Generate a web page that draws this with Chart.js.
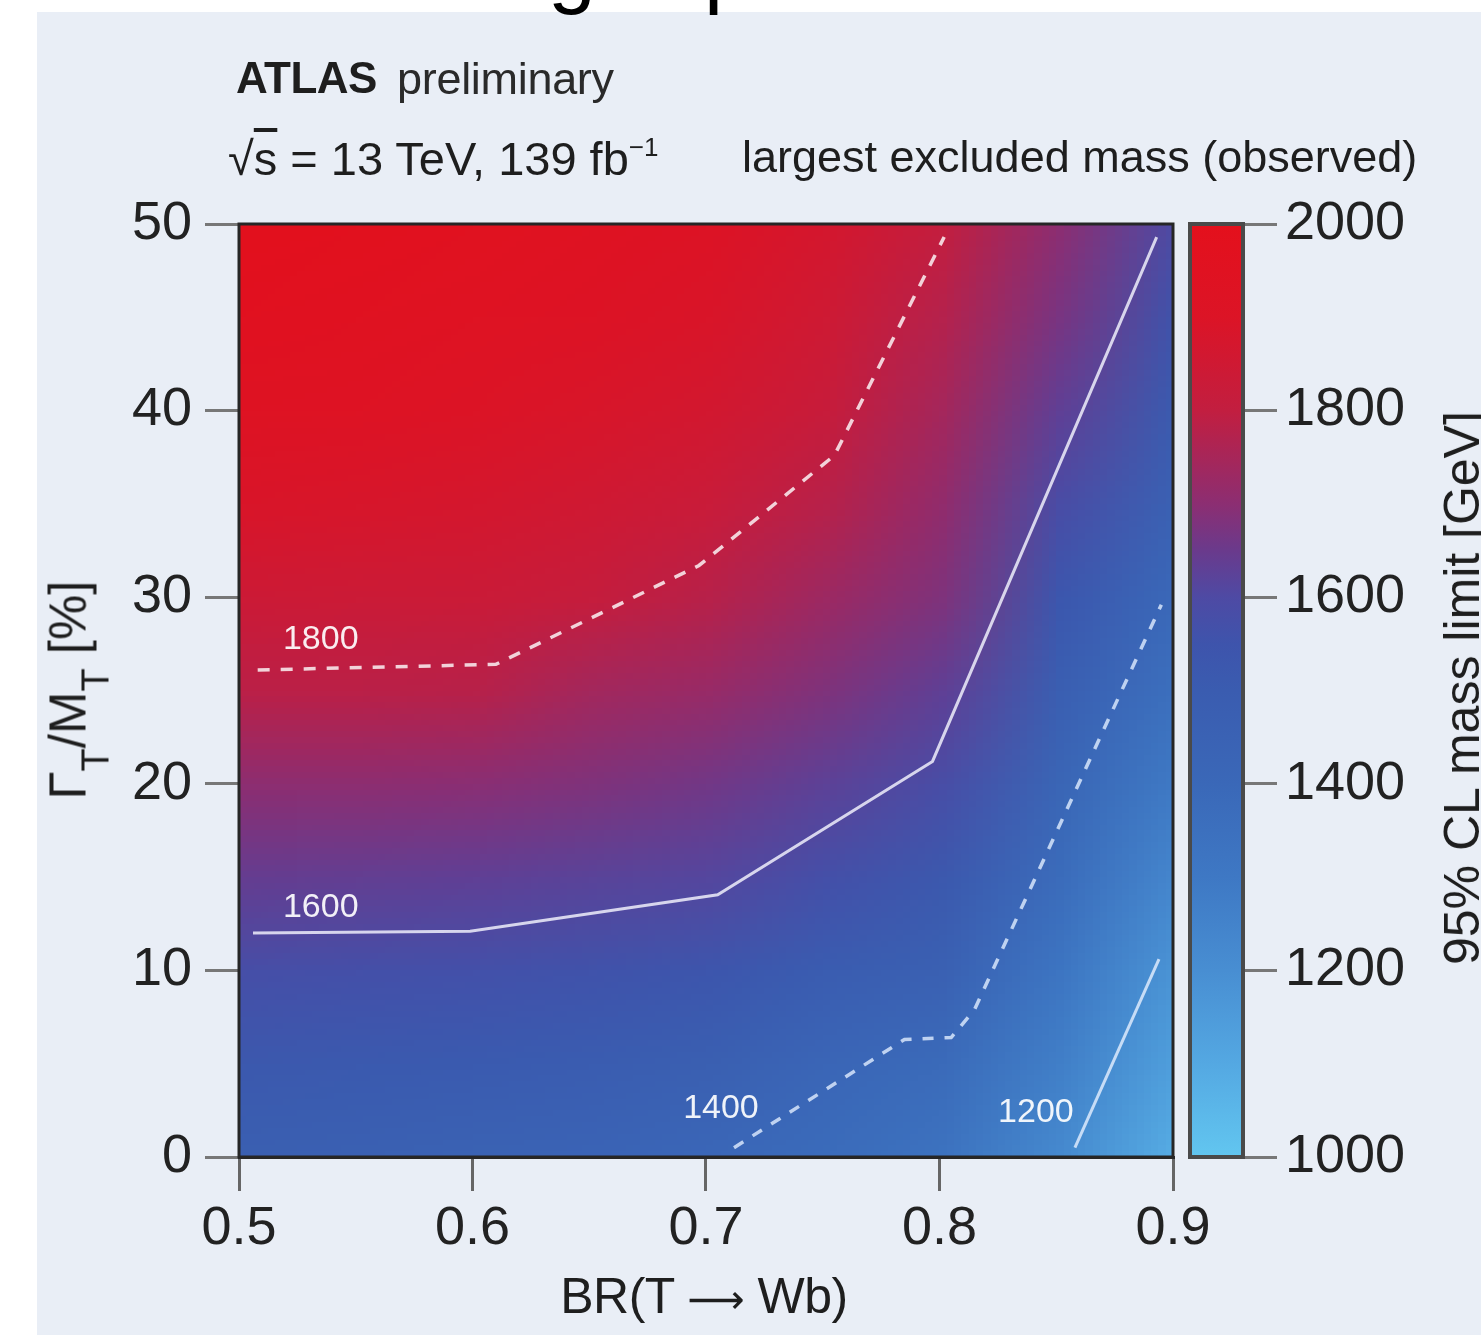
<!DOCTYPE html>
<html><head><meta charset="utf-8">
<script src="https://cdn.jsdelivr.net/npm/chart.js@4.4.1/dist/chart.umd.min.js"></script>
<style>
html,body{margin:0;padding:0;background:#fff;}
body{width:1481px;height:1335px;overflow:hidden;position:relative;font-family:"Liberation Sans",Arial,sans-serif;color:#1e1e1e;}
#bg{position:absolute;left:37px;top:12px;right:0;bottom:0;background:#e9eef6;}
.t{position:absolute;white-space:nowrap;line-height:1;}
canvas{position:absolute;top:0;}
</style></head><body>
<div id="bg"></div>
<div class="t" style="left:548px;top:-76px;font-size:86px;color:#000;">g</div>
<div class="t" style="left:704px;top:-76px;font-size:86px;color:#000;">p</div>
<canvas id="main" width="1481" height="1335" style="left:0"></canvas>
<canvas id="cbar" width="331" height="1335" style="left:1150px"></canvas>
<div class="t" style="left:236px;top:56px;font-size:44px;font-weight:bold;color:#1e1e1e;letter-spacing:-0.5px;">ATLAS</div>
<div class="t" style="left:397px;top:56px;font-size:45px;color:#2a2a2a;letter-spacing:-0.3px;">preliminary</div>
<div class="t" style="left:228px;top:135px;font-size:47px;color:#1e1e1e;">√<span style="text-decoration:overline;">s</span> = 13 TeV, 139 fb<span style="font-size:26px;position:relative;top:-19px;">−1</span></div>
<div class="t" style="left:742px;top:134px;font-size:45px;color:#1e1e1e;">largest excluded mass (observed)</div>
<div class="t" style="left:704px;top:1271px;font-size:50px;color:#1e1e1e;transform:translateX(-50%);letter-spacing:-0.5px;">BR(T <span style="font-family:'DejaVu Sans';font-size:40px;">⟶</span> Wb)</div>
<div class="t" style="left:68px;top:690px;font-size:51px;color:#1e1e1e;transform:translate(-50%,-50%) rotate(-90deg);">Γ<span style="font-size:38px;position:relative;top:23px;">T</span>/M<span style="font-size:38px;position:relative;top:23px;">T</span> [%]</div>
<div class="t" style="left:1462px;top:688px;font-size:50px;color:#1e1e1e;transform:translate(-50%,-50%) rotate(-90deg);">95% CL mass limit [GeV]</div>
<script>
// ---- data ----
const brValues = [0.50, 0.55, 0.60, 0.65, 0.70, 0.75, 0.80, 0.85, 0.90];
const widthValues = [0, 5, 10, 15, 20, 25, 30, 35, 40, 45, 50];
// mass limit [GeV], one row per width value, columns follow brValues
const massLimit = [
  [1470,1460,1445,1430,1405,1375,1330,1220,1080],
  [1520,1515,1505,1490,1470,1415,1380,1270,1130],
  [1575,1570,1565,1555,1540,1490,1460,1320,1175],
  [1640,1635,1630,1620,1610,1570,1520,1375,1230],
  [1700,1700,1695,1680,1660,1625,1580,1420,1290],
  [1785,1785,1780,1740,1720,1680,1630,1475,1350],
  [1840,1835,1830,1810,1780,1730,1680,1530,1395],
  [1890,1880,1870,1850,1825,1780,1710,1585,1450],
  [1930,1920,1905,1885,1860,1820,1745,1630,1500],
  [1965,1955,1935,1915,1890,1845,1775,1670,1550],
  [1990,1980,1960,1940,1915,1870,1805,1700,1590]
];
const contour1800 = [[0.508,26.1],[0.61,26.4],[0.697,31.7],[0.755,37.6],[0.802,49.3]];
const contour1600 = [[0.506,12.0],[0.599,12.1],[0.705,14.05],[0.797,21.2],[0.893,49.3]];
const contour1400 = [[0.712,0.5],[0.785,6.3],[0.805,6.4],[0.815,7.9],[0.895,29.6]];
const contour1200 = [[0.858,0.5],[0.894,10.6]];
const contourLabels = ['1800','1600','1400','1200'];
const contourLabelPos = [[0.535,27.2],[0.535,12.86],[0.7064,2.09],[0.8413,1.88]];
const xTicks = [0.5, 0.6, 0.7, 0.8, 0.9];
const yTicks = [0, 10, 20, 30, 40, 50];
const cbarTicks = [1000, 1200, 1400, 1600, 1800, 2000];
const colorValues = [1000,1100,1200,1300,1400,1500,1550,1600,1650,1700,1800,1900,2000];
const colorRGB = [
  [98,198,240],[84,168,226],[72,142,210],[62,120,196],[58,104,184],
  [58,92,176],[62,84,172],[78,74,164],[106,58,140],[140,46,114],
  [194,30,64],[220,20,38],[228,16,28]
];

function colorFor(v){
  if (v <= colorValues[0]) return colorRGB[0];
  for (let i = 1; i < colorValues.length; i++){
    if (v <= colorValues[i]){
      const f = (v - colorValues[i-1]) / (colorValues[i] - colorValues[i-1]);
      const a = colorRGB[i-1], b = colorRGB[i];
      return [0,1,2].map(k => Math.round(a[k] + (b[k]-a[k])*f));
    }
  }
  return colorRGB[colorRGB.length-1];
}
const toXY = arr => arr.map(p => ({x:p[0], y:p[1]}));
const FONT = 'Liberation Sans';

const heatmapPlugin = {
  id:'heatmap',
  beforeDatasetsDraw(chart){
    const {ctx, chartArea:ca, scales:{x, y}} = chart;
    const nx = brValues.length, ny = widthValues.length;
    const off = document.createElement('canvas');
    off.width = nx; off.height = ny;
    const octx = off.getContext('2d');
    const img = octx.createImageData(nx, ny);
    for (let r = 0; r < ny; r++){
      const row = massLimit[ny-1-r];
      for (let c = 0; c < nx; c++){
        const col = colorFor(row[c]);
        const i = (r*nx + c)*4;
        img.data[i]=col[0]; img.data[i+1]=col[1]; img.data[i+2]=col[2]; img.data[i+3]=255;
      }
    }
    octx.putImageData(img,0,0);
    const dx = brValues[1]-brValues[0], dy = widthValues[1]-widthValues[0];
    const l = x.getPixelForValue(brValues[0]-dx/2), rgt = x.getPixelForValue(brValues[nx-1]+dx/2);
    const t = y.getPixelForValue(widthValues[ny-1]+dy/2), b = y.getPixelForValue(widthValues[0]-dy/2);
    ctx.save();
    ctx.beginPath(); ctx.rect(ca.left, ca.top, ca.right-ca.left, ca.bottom-ca.top); ctx.clip();
    ctx.imageSmoothingEnabled = true;
    ctx.imageSmoothingQuality = 'low';
    ctx.drawImage(off, l, t, rgt-l, b-t);
    ctx.restore();
  },
  afterDatasetsDraw(chart){
    const {ctx, chartArea:ca, scales:{x, y}} = chart;
    ctx.save();
    ctx.fillStyle = 'rgba(255,255,255,0.92)';
    ctx.font = '34px "' + FONT + '"';
    ctx.textAlign = 'center'; ctx.textBaseline = 'alphabetic';
    contourLabels.forEach((lab, i) => {
      ctx.fillText(lab, x.getPixelForValue(contourLabelPos[i][0]), y.getPixelForValue(contourLabelPos[i][1]));
    });
    ctx.strokeStyle = '#262626'; ctx.lineWidth = 3;
    ctx.strokeRect(ca.left, ca.top, ca.right-ca.left, ca.bottom-ca.top);
    ctx.restore();
  }
};

const lineDs = (data, color, width, dash) => ({
  data: toXY(data), showLine:true, borderColor:color, borderWidth:width,
  borderDash:dash, pointRadius:0, pointHoverRadius:0, tension:0, fill:false
});

new Chart(document.getElementById('main'), {
  type:'scatter',
  data:{ datasets:[
    lineDs(contour1800,'rgba(255,255,255,0.8)',3.5,[12,11]),
    lineDs(contour1600,'rgba(238,238,250,0.85)',3,[]),
    lineDs(contour1400,'rgba(225,238,255,0.8)',3.5,[11,11]),
    lineDs(contour1200,'rgba(230,240,255,0.8)',3,[])
  ]},
  options:{
    responsive:false, animation:false, events:[],
    layout:{padding:{left:0,right:308,top:224,bottom:0}},
    plugins:{legend:{display:false}, tooltip:{enabled:false}},
    scales:{
      x:{type:'linear', min:0.5, max:0.9,
        afterFit(s){ s.height = 178; s.paddingLeft = 0; s.paddingRight = 0; },
        afterBuildTicks(s){ s.ticks = xTicks.map(v => ({value:v})); },
        ticks:{font:{family:FONT,size:54}, color:'#222', padding:6, maxRotation:0, autoSkip:false,
          callback:v => Number(v).toFixed(1)},
        grid:{drawOnChartArea:false, drawTicks:true, tickLength:34, color:'#666', lineWidth:3},
        border:{display:true, color:'#262626', width:3}},
      y:{type:'linear', min:0, max:50,
        afterFit(s){ s.width = 239; s.paddingTop = 0; s.paddingBottom = 0; },
        afterBuildTicks(s){ s.ticks = yTicks.map(v => ({value:v})); },
        ticks:{font:{family:FONT,size:54}, color:'#222', padding:13, autoSkip:false,
          callback:v => String(v)},
        grid:{drawOnChartArea:false, drawTicks:true, tickLength:34, color:'#777', lineWidth:3},
        border:{display:true, color:'#262626', width:3}}
    }
  },
  plugins:[heatmapPlugin]
});

const cbarPlugin = {
  id:'cbar',
  beforeDatasetsDraw(chart){
    const {ctx, chartArea:ca, scales:{y}} = chart;
    const y0 = y.getPixelForValue(colorValues[0]);
    const y1 = y.getPixelForValue(colorValues[colorValues.length-1]);
    const g = ctx.createLinearGradient(0, y0, 0, y1);
    colorValues.forEach((v, i) => {
      const f = (v - colorValues[0]) / (colorValues[colorValues.length-1] - colorValues[0]);
      g.addColorStop(f, 'rgb(' + colorRGB[i].join(',') + ')');
    });
    ctx.save();
    ctx.fillStyle = g;
    ctx.fillRect(ca.left, ca.top, ca.right-ca.left, ca.bottom-ca.top);
    ctx.strokeStyle = '#4a4a4a'; ctx.lineWidth = 4;
    ctx.strokeRect(ca.left, ca.top, ca.right-ca.left, ca.bottom-ca.top);
    ctx.restore();
  }
};

new Chart(document.getElementById('cbar'), {
  type:'scatter',
  data:{datasets:[{data:[]}]},
  options:{
    responsive:false, animation:false, events:[],
    layout:{padding:{left:40,right:0,top:224,bottom:178}},
    plugins:{legend:{display:false}, tooltip:{enabled:false}},
    scales:{
      x:{display:false, min:0, max:1},
      y:{type:'linear', position:'right', min:1000, max:2000,
        afterFit(s){ s.width = 238; s.paddingTop = 0; s.paddingBottom = 0; },
        afterBuildTicks(s){ s.ticks = cbarTicks.map(v => ({value:v})); },
        ticks:{font:{family:FONT,size:54}, color:'#222', padding:8, autoSkip:false, callback:v => String(v)},
        grid:{drawOnChartArea:false, drawTicks:true, tickLength:34, color:'#777', lineWidth:3},
        border:{display:false}}
    }
  },
  plugins:[cbarPlugin]
});
</script>
</body></html>
